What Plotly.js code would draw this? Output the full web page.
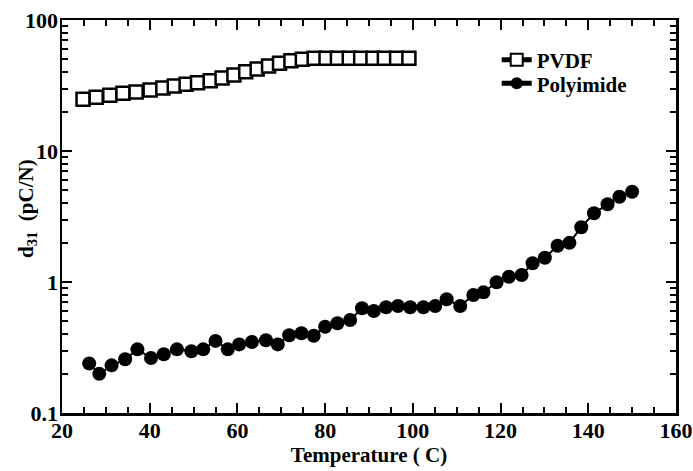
<!DOCTYPE html>
<html>
<head>
<meta charset="utf-8">
<script src="https://cdn.plot.ly/plotly-3.0.1.min.js"></script>
<style>html,body{margin:0;padding:0;background:#fff;}#chart{width:693px;height:471px;}</style>
</head>
<body>
<div id="chart"></div>
<script>
// PVDF
const pvdfT = [24.8, 27.8, 30.9, 33.9, 36.9, 40.1, 43.0, 45.6, 48.3, 50.9, 53.8, 56.5, 59.2, 61.9, 64.5, 67.1, 69.6, 72.2, 74.8, 77.5, 80.2, 82.8, 85.5, 88.1, 90.9, 93.5, 96.3, 99.1];
const pvdfD = [24.8, 25.7, 26.6, 27.6, 28.2, 29.2, 30.3, 31.4, 32.3, 33.2, 34.4, 36.1, 38.0, 40.3, 42.3, 44.6, 46.7, 48.9, 50.1, 51, 51, 51, 51, 51, 51, 51, 51, 51];
// Polyimide
const polyT = [26.2, 28.5, 31.3, 34.4, 37.2, 40.3, 43.2, 46.2, 49.5, 52.2, 55.0, 57.8, 60.4, 63.3, 66.5, 69.2, 71.8, 74.6, 77.4, 80.0, 82.8, 85.7, 88.4, 91.1, 93.9, 96.6, 99.4, 102.4, 105.1, 107.7, 110.8, 113.8, 116.1, 119.1, 121.9, 124.8, 127.3, 130.1, 133.0, 135.7, 138.4, 141.3, 144.4, 147.1, 150.0];
const polyD = [0.239, 0.199, 0.231, 0.257, 0.306, 0.263, 0.281, 0.306, 0.296, 0.306, 0.355, 0.306, 0.334, 0.348, 0.359, 0.334, 0.392, 0.406, 0.389, 0.456, 0.484, 0.513, 0.630, 0.601, 0.641, 0.656, 0.641, 0.641, 0.656, 0.738, 0.656, 0.796, 0.834, 0.995, 1.097, 1.13, 1.39, 1.53, 1.89, 1.99, 2.62, 3.35, 3.92, 4.48, 4.89];
const seriesNames = ['PVDF', 'Polyimide'];
const xTitle = 'Temperature ( C)';
const yTitle = 'd<sub>31</sub>&nbsp; (pC/N)';

const FONT = 'Liberation Serif';

const traces = [
  {
    x: pvdfT, y: pvdfD, name: seriesNames[0], type: 'scatter', mode: 'lines+markers',
    legend: 'legend',
    line: {color: '#000', width: 2},
    marker: {symbol: 'square', size: 13, color: '#fff', line: {color: '#000', width: 2.5}}
  },
  {
    x: polyT, y: polyD, name: seriesNames[1], type: 'scatter', mode: 'lines+markers',
    legend: 'legend2',
    line: {color: '#000', width: 2},
    marker: {symbol: 'circle', size: 14, color: '#000', line: {color: '#000', width: 0}}
  }
];

const legFont = {family: FONT, size: 21, color: '#000', weight: 'bold'};
const tickFont = {family: FONT, size: 22, color: '#000', weight: 'bold'};
const titleFont = {family: FONT, size: 21, color: '#000', weight: 'bold'};

const axisCommon = {
  showgrid: false, zeroline: false, showline: true, linecolor: '#000', linewidth: 2.5,
  mirror: 'ticks', ticks: 'inside', ticklen: 10, tickwidth: 2, tickcolor: '#000',
  tickfont: tickFont
};

const layout = {
  width: 693, height: 471,
  margin: {l: 62, r: 17, t: 20, b: 58},
  paper_bgcolor: '#fff', plot_bgcolor: '#fff',
  font: {family: FONT, color: '#000'},
  showlegend: true,
  legend: {
    x: 0.708, y: 0.898, xanchor: 'left', yanchor: 'middle',
    bgcolor: 'rgba(0,0,0,0)', borderwidth: 0, font: legFont, itemsizing: 'constant'
  },
  legend2: {
    x: 0.708, y: 0.838, xanchor: 'left', yanchor: 'middle',
    bgcolor: 'rgba(0,0,0,0)', borderwidth: 0, font: legFont, itemsizing: 'constant'
  },
  xaxis: Object.assign({}, axisCommon, {
    range: [20, 160], dtick: 20, tick0: 20, ticklabelstandoff: -4,
    minor: {dtick: 5, ticks: 'inside', ticklen: 6, tickwidth: 2, tickcolor: '#000', showgrid: false},
    title: {text: xTitle, font: titleFont, standoff: 4}
  }),
  yaxis: Object.assign({}, axisCommon, {
    type: 'log', range: [-1, 2], dtick: 1, ticklabelstandoff: -3,
    minor: {dtick: 'D1', ticks: 'inside', ticklen: 6, tickwidth: 2, tickcolor: '#000', showgrid: false}
  }),
  annotations: [{
    text: yTitle, xref: 'paper', yref: 'paper', x: -0.058, y: 0.52,
    xanchor: 'center', yanchor: 'middle', textangle: -90, showarrow: false,
    font: titleFont
  }]
};

Plotly.newPlot('chart', traces, layout, {staticPlot: true, displayModeBar: false});
</script>
</body>
</html>
